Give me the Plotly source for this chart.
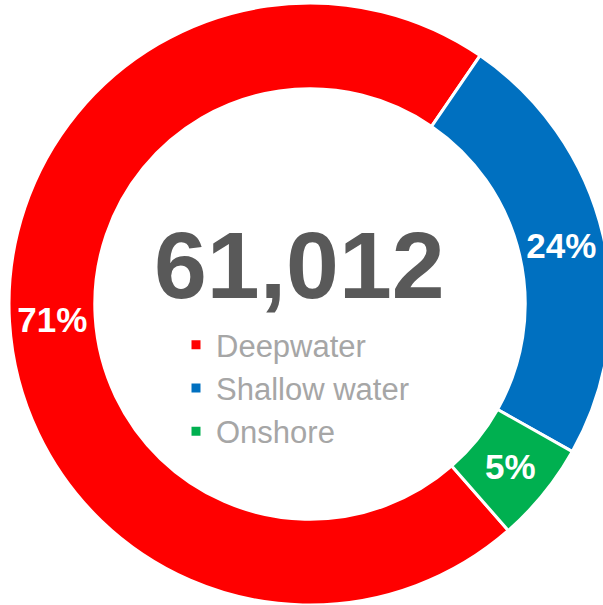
import plotly.graph_objects as go

labels = ["Deepwater", "Shallow water", "Onshore"]
values = [43318, 14399, 3295]
colors = ["#FF0000", "#0070C0", "#00B050"]
total_label = "61,012"

W, H = 612, 605
FONT = "Arial, Liberation Sans, sans-serif"

fig = go.Figure(go.Pie(
    labels=labels,
    values=values,
    hole=0.715,
    sort=False,
    direction="clockwise",
    rotation=138.8,
    marker=dict(colors=colors, line=dict(color="white", width=3)),
    texttemplate="<b>%{percent:.0%}</b>",
    textposition="inside",
    insidetextorientation="horizontal",
    textfont=dict(family=FONT, size=35, color="white"),
    domain=dict(x=[8 / W, 1.0], y=[0.0, 1 - 3 / H]),
    showlegend=True,
))

fig.add_annotation(
    text="<b>" + total_label + "</b>",
    x=299 / W, y=1 - 265 / H, xref="paper", yref="paper",
    xanchor="center", yanchor="middle", showarrow=False,
    font=dict(family=FONT, size=95, color="#595959"),
)

fig.update_layout(
    width=W, height=H,
    margin=dict(l=0, r=0, t=0, b=0),
    paper_bgcolor="white",
    plot_bgcolor="white",
    uniformtext=dict(minsize=35, mode="show"),
    legend=dict(
        x=176 / W, y=1 - 318 / H, xanchor="left", yanchor="top",
        bgcolor="rgba(0,0,0,0)",
        font=dict(family=FONT, size=31, color="#A6A6A6"),
        traceorder="normal",
        itemclick=False,
    ),
)

fig.write_html(
    "out.html",
    config={"displayModeBar": False},
    post_script="document.body.style.margin='0';document.body.style.overflow='hidden';",
)
